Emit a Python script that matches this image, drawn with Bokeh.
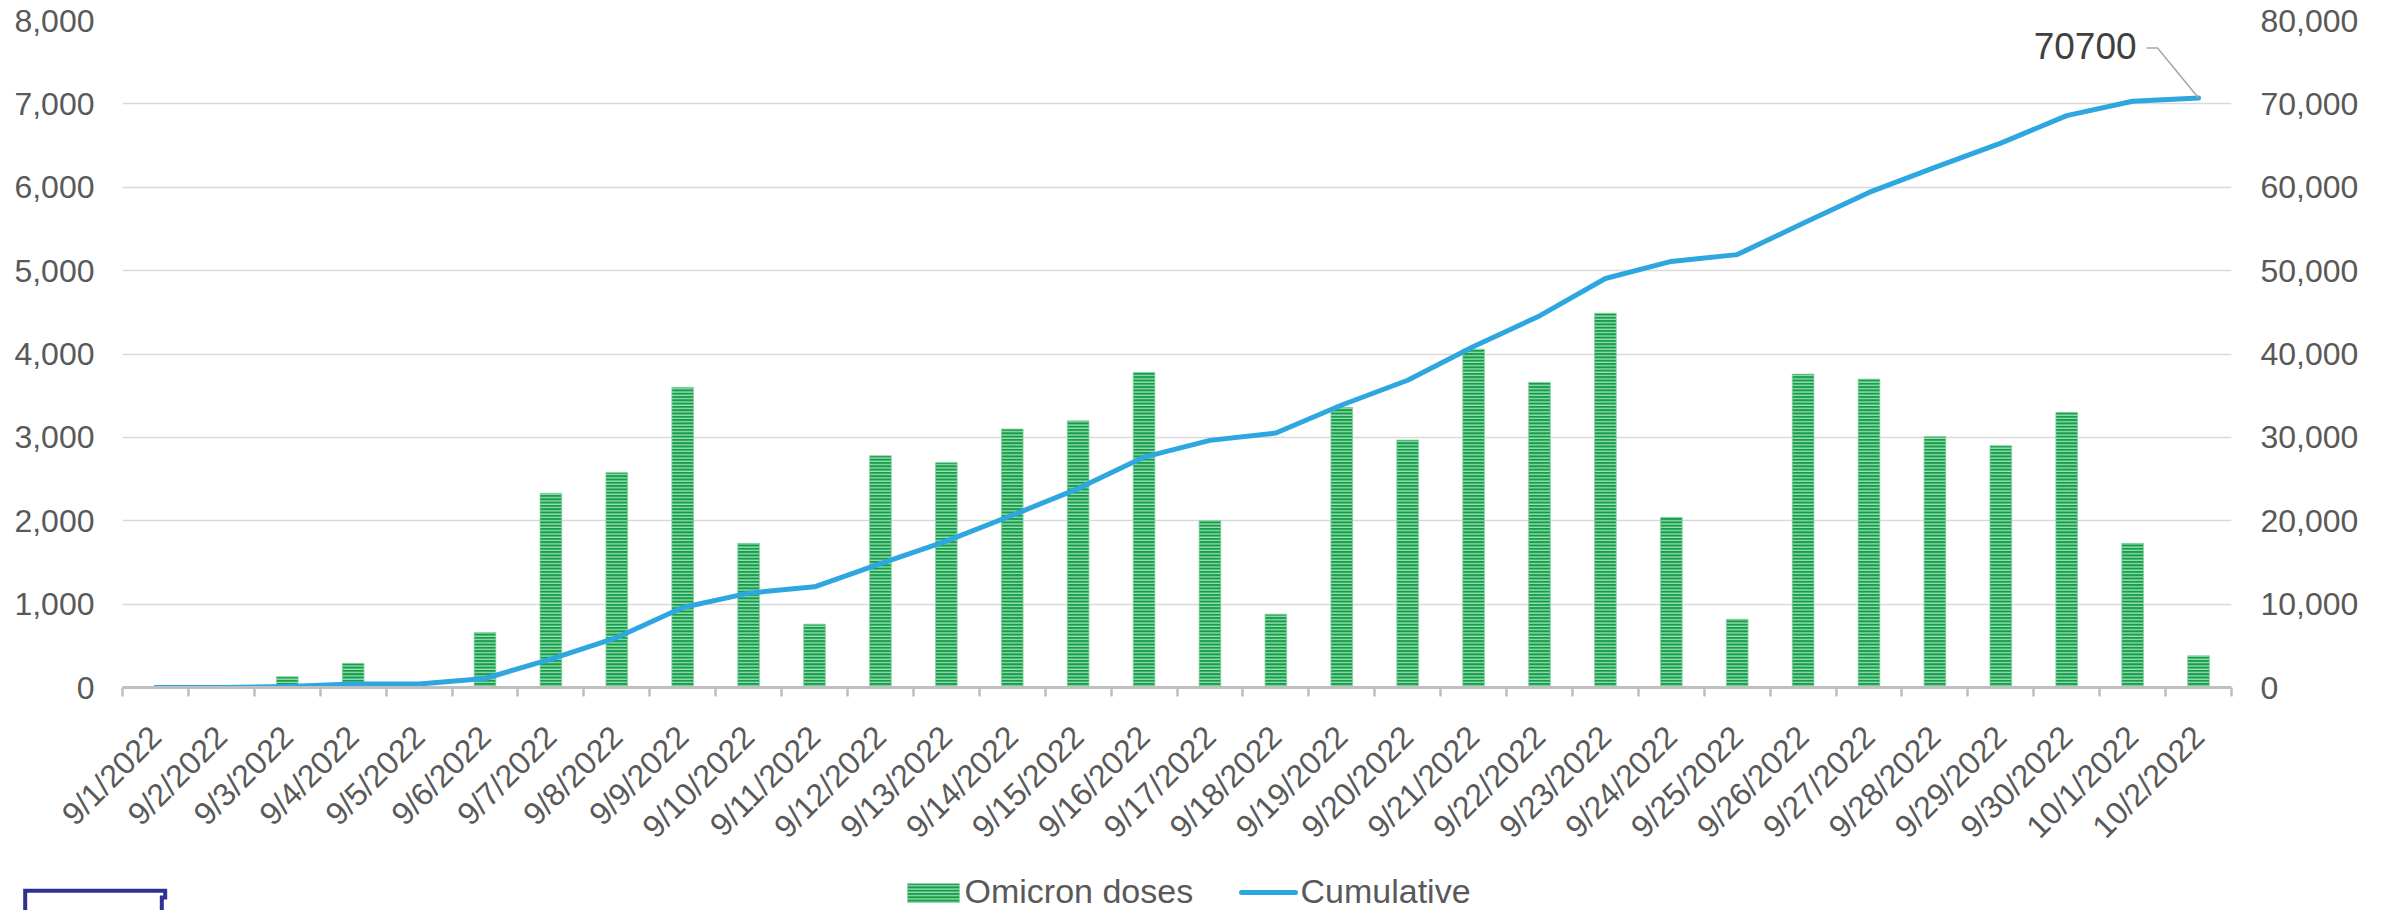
import math
from bokeh.plotting import figure
from bokeh.layouts import column, row
from bokeh.models import Range1d, LinearAxis, FixedTicker, NumeralTickFormatter
from bokeh.core.properties import value
from bokeh.embed import file_html
from bokeh.resources import INLINE

# ---------------- data ----------------
dates = ["9/1/2022", "9/2/2022", "9/3/2022", "9/4/2022", "9/5/2022", "9/6/2022",
         "9/7/2022", "9/8/2022", "9/9/2022", "9/10/2022", "9/11/2022", "9/12/2022",
         "9/13/2022", "9/14/2022", "9/15/2022", "9/16/2022", "9/17/2022", "9/18/2022",
         "9/19/2022", "9/20/2022", "9/21/2022", "9/22/2022", "9/23/2022", "9/24/2022",
         "9/25/2022", "9/26/2022", "9/27/2022", "9/28/2022", "9/29/2022", "9/30/2022",
         "10/1/2022", "10/2/2022"]
doses = [0, 0, 130, 290, 0, 660, 2330, 2580, 3600, 1730, 760, 2780, 2700, 3100, 3200,
         3780, 2000, 880, 3360, 2970, 4060, 3660, 4490, 2040, 820, 3760, 3700, 3010,
         2900, 3300, 1730, 380]
cumulative = [0, 0, 130, 420, 420, 1080, 3410, 5990, 9590, 11320, 12080, 14860, 17560,
              20660, 23860, 27640, 29640, 30520, 33880, 36850, 40910, 44570, 49060,
              51100, 51920, 55680, 59380, 62390, 65290, 68590, 70320, 70700]
left_ticks = [0, 1000, 2000, 3000, 4000, 5000, 6000, 7000, 8000]
right_ticks = [0, 10000, 20000, 30000, 40000, 50000, 60000, 70000, 80000]
series_names = ["Omicron doses", "Cumulative"]

# ---------------- style / layout constants ----------------
W = 2389
FW, FH = 2109, 667
FONT = "Liberation Sans"
GREY_TXT = "#595959"
BAR_FILL, BAR_HATCH = "#159c4b", "#9be0b2"
LINE_COLOR = "#2ea6df"

N = len(dates)
xc = [i + 0.5 for i in range(N)]

p = figure(frame_width=FW, frame_height=FH,
           x_range=Range1d(0, N), y_range=Range1d(left_ticks[0], left_ticks[-1]),
           output_backend="svg", toolbar_location=None,
           min_border_left=122, min_border_right=W - 122 - FW,
           min_border_top=20, min_border_bottom=173)
p.extra_y_ranges = {"right": Range1d(right_ticks[0], right_ticks[-1])}
p.outline_line_color = None
p.background_fill_color = "white"
p.border_fill_color = "white"

# grid
p.xgrid.visible = False
p.ygrid.grid_line_color = "#d9d9d9"
p.ygrid.grid_line_width = 1.5

bar_style = dict(fill_color=BAR_FILL, line_color="#8fd8a6", line_width=1, line_alpha=0.7,
                 hatch_pattern="horizontal_line", hatch_color=BAR_HATCH,
                 hatch_scale=3.3, hatch_weight=1.3)

# bars
bars = p.vbar(x=xc, top=doses, width=0.33, **bar_style)

# cumulative line
line = p.line(xc, cumulative, y_range_name="right", line_color=LINE_COLOR,
              line_width=5, line_join="round", line_cap="round")

# data label for the last point, with leader line
px_x = FW / N
px_y = (right_ticks[-1] - right_ticks[0]) / FH
lx, ly = xc[-1], cumulative[-1]
p.text(x=[lx], y=[ly], text=[str(ly)], y_range_name="right",
       x_offset=-62, y_offset=-52, text_align="right", text_baseline="middle",
       text_font_size="37px", text_color="#404040", text_font=value(FONT))
lead_px = [(-52, -50), (-41, -50), (0, 0)]
p.line([lx + dx / px_x for dx, dy in lead_px], [ly - dy * px_y for dx, dy in lead_px],
       y_range_name="right", line_color="#a6a6a6", line_width=1.5)

# x axis: labels at category centres, tick marks at category boundaries
xa = p.xaxis[0]
xa.ticker = FixedTicker(ticks=xc, minor_ticks=list(range(N + 1)))
xa.major_label_overrides = {x: d for x, d in zip(xc, dates)}
xa.major_tick_in = 0
xa.major_tick_out = 0
xa.minor_tick_in = 0
xa.minor_tick_out = 9
xa.minor_tick_line_color = "#bfbfbf"
xa.minor_tick_line_width = 2.5
xa.axis_line_color = "#bfbfbf"
xa.axis_line_width = 3
xa.major_label_orientation = math.pi / 4
xa.major_label_standoff = 35
xa.major_label_text_font_size = "32px"
xa.major_label_text_color = GREY_TXT
xa.major_label_text_font = FONT

# left y axis
ya = p.yaxis[0]
ya.ticker = FixedTicker(ticks=left_ticks)
ya.formatter = NumeralTickFormatter(format="0,0")
ya.axis_line_color = None
ya.major_tick_line_color = None
ya.minor_tick_line_color = None
ya.major_tick_out = 0
ya.major_tick_in = 0
ya.major_label_standoff = 28
ya.major_label_text_font_size = "32px"
ya.major_label_text_color = GREY_TXT
ya.major_label_text_font = FONT

# right y axis
ra = LinearAxis(y_range_name="right", ticker=FixedTicker(ticks=right_ticks),
                formatter=NumeralTickFormatter(format="0,0"))
ra.axis_line_color = None
ra.major_tick_line_color = None
ra.minor_tick_line_color = None
ra.major_tick_out = 0
ra.major_tick_in = 0
ra.major_label_standoff = 29
ra.major_label_text_font_size = "32px"
ra.major_label_text_color = GREY_TXT
ra.major_label_text_font = FONT
p.add_layout(ra, "right")

# ---------------- legend strip (pixel coordinates, y downward) ----------------
LH = 50
q = figure(width=W, height=LH, x_range=Range1d(0, W), y_range=Range1d(LH, 0),
           output_backend="svg", toolbar_location=None, min_border=0,
           x_axis_location=None, y_axis_location=None)
q.grid.visible = False
q.outline_line_color = None
q.background_fill_color = "white"
q.border_fill_color = "white"

# legend swatch: bars
q.quad(left=[907], right=[959], top=[23], bottom=[42], **bar_style)
q.text(x=[964], y=[30], text=[series_names[0]], text_align="left",
       text_baseline="middle", text_font_size="34px", text_color=GREY_TXT,
       text_font=value(FONT))
# legend swatch: line
q.line([1241, 1295], [32, 32], line_color=LINE_COLOR, line_width=5, line_cap="round")
q.text(x=[1300], y=[30], text=[series_names[1]], text_align="left",
       text_baseline="middle", text_font_size="34px", text_color=GREY_TXT,
       text_font=value(FONT))

# partial framed box at the lower-left corner
q.line([24.7, 24.7, 164.7, 164.7, 161.3, 161.3], [60, 30.3, 30.3, 37, 37, 60],
       line_color="#2e3192", line_width=4, line_join="miter")

layout = column(p, row(q), spacing=0)
open("out.html", "w").write(file_html(layout, INLINE))
